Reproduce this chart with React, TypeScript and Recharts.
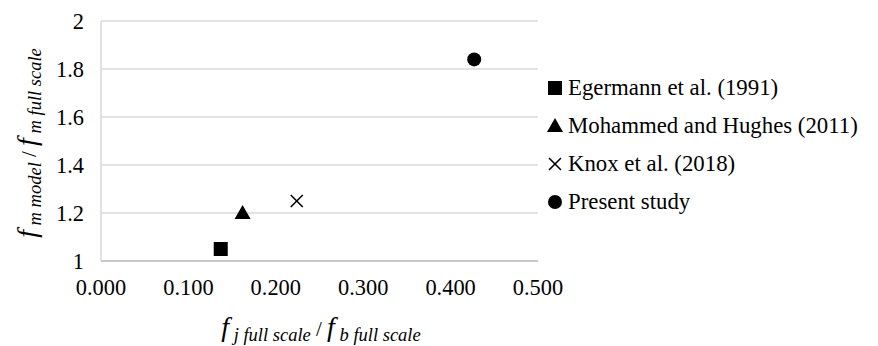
import React from "react"
import { ScatterChart, Scatter, XAxis, YAxis, CartesianGrid } from "recharts"

const seriesNames = ["Egermann et al. (1991)", "Mohammed and Hughes (2011)", "Knox et al. (2018)", "Present study"]
const seriesShapes = ["square", "triangle", "x", "circle"]
const xValues = [0.137, 0.162, 0.224, 0.427]
const yValues = [1.05, 1.2, 1.25, 1.84]
const xTicks = [0, 0.1, 0.2, 0.3, 0.4, 0.5]
const yTicks = [1, 1.2, 1.4, 1.6, 1.8, 2]

const FONT = "'Liberation Serif', 'Times New Roman', serif"

function Marker({ kind, cx, cy }: { kind: string; cx: number; cy: number }) {
  if (kind === "square") return <rect x={cx - 7} y={cy - 7} width={14} height={14} fill="#000" />
  if (kind === "triangle") return <polygon points={`${cx},${cy - 8} ${cx + 8},${cy + 6} ${cx - 8},${cy + 6}`} fill="#000" />
  if (kind === "x")
    return (
      <g stroke="#000" strokeWidth={1.6}>
        <line x1={cx - 6} y1={cy - 6} x2={cx + 6} y2={cy + 6} />
        <line x1={cx - 6} y1={cy + 6} x2={cx + 6} y2={cy - 6} />
      </g>
    )
  return <circle cx={cx} cy={cy} r={7} fill="#000" />
}

function LegendBox() {
  return (
    <div style={{ position: "absolute", left: 547, top: 69, fontFamily: FONT, fontSize: 22.8, color: "#000" }}>
      {seriesNames.map((name, i) => (
        <div key={name} style={{ display: "flex", alignItems: "center", height: 38, whiteSpace: "nowrap" }}>
          <svg width={18} height={18} style={{ marginRight: 3 }}>
            <Marker kind={seriesShapes[i]} cx={8} cy={9} />
          </svg>
          <span>{name}</span>
        </div>
      ))}
    </div>
  )
}

function YLabel() {
  return (
    <text transform="translate(36,143) rotate(-90)" textAnchor="middle" fontFamily={FONT} fill="#000" fontStyle="italic">
      <tspan fontSize={28}>f</tspan>
      <tspan fontSize={18.5} dy={5}> m model</tspan>
      <tspan fontSize={21} fontStyle="normal" dy={-5}> / </tspan>
      <tspan fontSize={28}>f</tspan>
      <tspan fontSize={18.5} dy={5}> m full scale</tspan>
    </text>
  )
}

function XLabel() {
  return (
    <text x={321} y={336} textAnchor="middle" fontFamily={FONT} fill="#000" fontStyle="italic">
      <tspan fontSize={28}>f</tspan>
      <tspan fontSize={18.5} dy={5}> j full scale</tspan>
      <tspan fontSize={21} fontStyle="normal" dy={-5}> / </tspan>
      <tspan fontSize={28}>f</tspan>
      <tspan fontSize={18.5} dy={5}> b full scale</tspan>
    </text>
  )
}

export default function App() {
  return (
    <div style={{ position: "absolute", left: 0, top: 0, width: 878, height: 346, background: "#fff" }}>
      <ScatterChart width={878} height={346} margin={{ top: 21, right: 340, bottom: 55, left: 41 }}>
        <CartesianGrid vertical={false} stroke="#d9d9d9" strokeWidth={1.5} />
        <XAxis
          type="number"
          dataKey="x"
          domain={[0, 0.5]}
          ticks={xTicks}
          tickFormatter={(v: number) => v.toFixed(3)}
          tickLine={false}
          tickSize={0}
          tickMargin={18}
          height={30}
          axisLine={{ stroke: "#bfbfbf", strokeWidth: 1.5 }}
          tick={{ fill: "#000", fontSize: 22.4, fontFamily: FONT }}
          allowDataOverflow
        />
        <YAxis
          type="number"
          dataKey="y"
          domain={[1, 2]}
          ticks={yTicks}
          tickLine={false}
          tickSize={0}
          tickMargin={17}
          width={60}
          axisLine={{ stroke: "#d9d9d9", strokeWidth: 1.5 }}
          tick={{ fill: "#000", fontSize: 22.4, fontFamily: FONT }}
          allowDataOverflow
        />
        {seriesNames.map((name, i) => (
          <Scatter
            key={name}
            name={name}
            data={[{ x: xValues[i], y: yValues[i] }]}
            isAnimationActive={false}
            shape={(p: any) => <Marker kind={seriesShapes[i]} cx={p.cx} cy={p.cy} />}
          />
        ))}
        <YLabel />
        <XLabel />
      </ScatterChart>
      <LegendBox />
    </div>
  )
}
